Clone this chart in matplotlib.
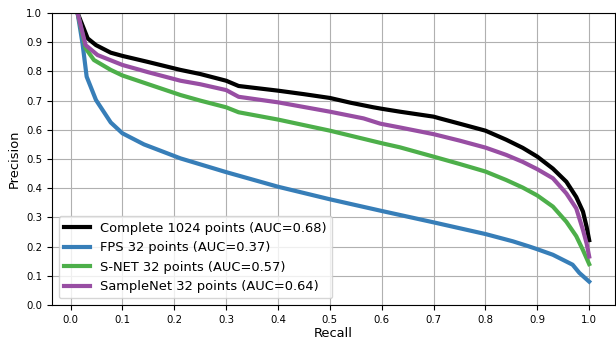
import matplotlib
matplotlib.use("Agg")
import matplotlib.pyplot as plt

# Precision-recall curves, one per sampling method
recall_complete = [0.0135, 0.033, 0.049, 0.0775, 0.1, 0.15, 0.212, 0.25, 0.3, 0.324,
                   0.4, 0.45, 0.5, 0.539, 0.584, 0.6, 0.635, 0.7, 0.712, 0.75,
                   0.8, 0.84, 0.872, 0.9, 0.93, 0.956, 0.975, 0.988, 0.995, 1.0]
precision_complete = [1.0, 0.913, 0.89, 0.864, 0.853, 0.832, 0.805, 0.791, 0.768, 0.75,
                      0.734, 0.722, 0.709, 0.693, 0.677, 0.672, 0.662, 0.645, 0.639, 0.621,
                      0.597, 0.566, 0.538, 0.508, 0.467, 0.422, 0.37, 0.32, 0.268, 0.222]

recall_fps = [0.0135, 0.023, 0.031, 0.049, 0.0775, 0.1, 0.1415, 0.212, 0.3, 0.4,
              0.5, 0.6, 0.7, 0.8, 0.853, 0.885, 0.9, 0.93, 0.968, 0.981, 1.0]
precision_fps = [1.0, 0.896, 0.782, 0.702, 0.625, 0.588, 0.55, 0.502, 0.455, 0.405,
                 0.362, 0.322, 0.283, 0.243, 0.218, 0.2, 0.191, 0.172, 0.138, 0.11, 0.08]

recall_snet = [0.0135, 0.029, 0.045, 0.0775, 0.1, 0.15, 0.212, 0.25, 0.3, 0.324,
               0.4, 0.5, 0.6, 0.635, 0.7, 0.75, 0.8, 0.84, 0.872, 0.9,
               0.93, 0.956, 0.975, 0.988, 1.0]
precision_snet = [1.0, 0.879, 0.839, 0.805, 0.786, 0.756, 0.719, 0.7, 0.677, 0.66,
                  0.635, 0.597, 0.554, 0.54, 0.508, 0.483, 0.457, 0.428, 0.402, 0.375,
                  0.337, 0.285, 0.236, 0.188, 0.14]

recall_samplenet = [0.0135, 0.029, 0.052, 0.1, 0.15, 0.212, 0.25, 0.3, 0.324, 0.4,
                    0.5, 0.565, 0.597, 0.635, 0.7, 0.75, 0.8, 0.84, 0.872, 0.9,
                    0.93, 0.956, 0.975, 0.988, 0.995, 1.0]
precision_samplenet = [1.0, 0.89, 0.856, 0.822, 0.797, 0.768, 0.756, 0.736, 0.713, 0.694,
                       0.662, 0.639, 0.621, 0.608, 0.585, 0.563, 0.539, 0.514, 0.49, 0.465,
                       0.434, 0.382, 0.331, 0.257, 0.211, 0.166]

labels = ["Complete 1024 points (AUC=0.68)",
          "FPS 32 points (AUC=0.37)",
          "S-NET 32 points (AUC=0.57)",
          "SampleNet 32 points (AUC=0.64)"]
colors = ["black", "#377eb8", "#4daf4a", "#984ea3"]

fig = plt.figure(figsize=(6.16, 3.39), dpi=100)
ax = fig.add_axes([0.0844, 0.1003, 0.9136, 0.8614])

curves = [(recall_complete, precision_complete),
          (recall_fps, precision_fps),
          (recall_snet, precision_snet),
          (recall_samplenet, precision_samplenet)]
for (r, p), lab, c in zip(curves, labels, colors):
    ax.plot(r, p, color=c, linewidth=3, label=lab)

ax.set_ylim(0, 1)
ax.set_xticks([i / 10 for i in range(11)])
ax.set_yticks([i / 10 for i in range(11)])
ax.tick_params(labelsize=7.3)
ax.grid(True, color="#b0b0b0", linewidth=0.8)
ax.set_axisbelow(True)

ax.set_xlabel("Recall", fontsize=9.4, labelpad=2)
ax.set_ylabel("Precision", fontsize=9.4)
ax.legend(loc="lower left", fontsize=9.4)

fig.savefig("out.png", dpi=100)
